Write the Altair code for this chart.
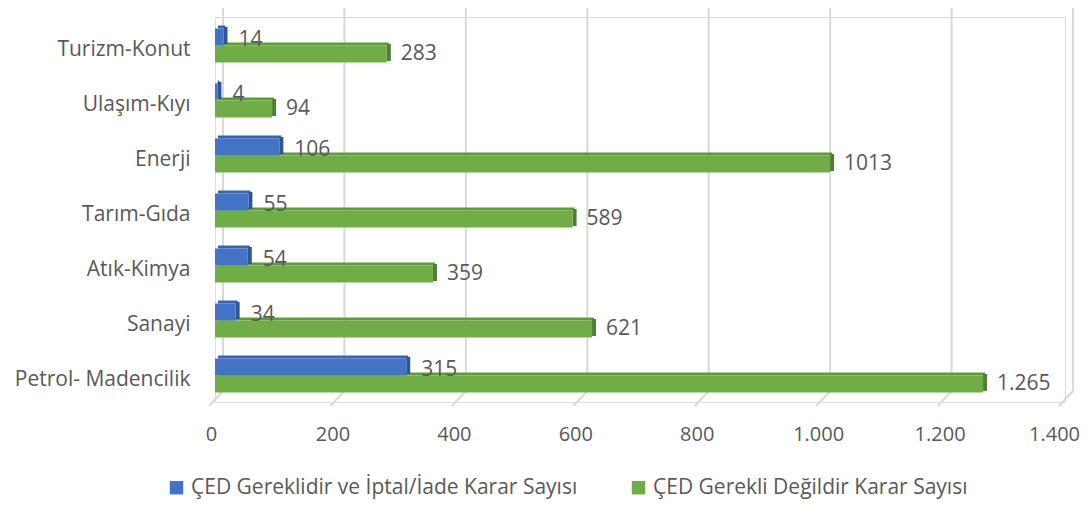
import altair as alt
import pandas as pd

categories = ["Turizm-Konut", "Ulaşım-Kıyı", "Enerji", "Tarım-Gıda", "Atık-Kimya", "Sanayi", "Petrol- Madencilik"]
series_names = ["ÇED Gereklidir ve İptal/İade Karar Sayısı", "ÇED Gerekli Değildir Karar Sayısı"]
blue_values = [14, 4, 106, 55, 54, 34, 315]
green_values = [283, 94, 1013, 589, 359, 621, 1265]
blue_labels = ["14", "4", "106", "55", "54", "34", "315"]
green_labels = ["283", "94", "1013", "589", "359", "621", "1.265"]
x_ticks = [0, 200, 400, 600, 800, 1000, 1200, 1400]

FONT = "Open Sans"
FS = 21
TXT = "#595959"
BLUE, BLUE_TOP, BLUE_SIDE = "#4472C4", "#3A64B0", "#2F5597"
GREEN, GREEN_TOP, GREEN_SIDE = "#70AD47", "#5F9A3B", "#507E32"

rows = []
for c, v, l in zip(categories, blue_values, blue_labels):
    rows.append({"cat": c, "series": series_names[0], "value": v, "label": l})
for c, v, l in zip(categories, green_values, green_labels):
    rows.append({"cat": c, "series": series_names[1], "value": v, "label": l})
df = pd.DataFrame(rows)
ticks_df = pd.DataFrame({"t": x_ticks})

xscale = alt.Scale(domain=[0, 1400], nice=False, zero=True)
yscale = alt.Scale(domain=categories, paddingInner=0, paddingOuter=0)

base = alt.Chart(df)
Y = alt.Y("cat:N", scale=yscale, sort=categories,
          axis=alt.Axis(title=None, domain=False, ticks=False, labelPadding=25,
                        labelFont=FONT, labelFontSize=FS, labelColor=TXT,
                        labelOffset=5, labelLimit=300))
X = alt.X("value:Q", scale=xscale,
          axis=alt.Axis(title=None, domain=False, ticks=False, grid=False,
                        values=x_ticks, labelPadding=22,
                        labelOffset={"condition": {"test": "datum.value === 1400", "value": -11}, "value": -4},
                        labelFlush=False,
                        labelFont=FONT, labelFontSize=20, labelColor=TXT,
                        labelExpr="replace(format(datum.value, ','), ',', '.')"))

grid_v = alt.Chart(ticks_df).mark_rule(color="#D9D9D9", strokeWidth=2, xOffset=8).encode(
    x=alt.X("t:Q", scale=xscale), y=alt.value(-10), y2=alt.value(374))
grid_s = alt.Chart(ticks_df).mark_rule(color="#D9D9D9", strokeWidth=2, xOffset=8, x2Offset=-6).encode(
    x=alt.X("t:Q", scale=xscale), x2="t:Q", y=alt.value(374), y2=alt.value(389))

H = 17
def series_layers(sname, main, top, side, yoff):
    b = base.transform_filter(alt.datum.series == sname)
    topface = b.transform_calculate(zero="0").mark_bar(
        height=3, yOffset=yoff - H / 2 - 1.5, xOffset=2, x2Offset=3, color=top).encode(
        x=alt.X("value:Q", scale=xscale), x2=alt.X2("zero:Q"), y=Y)
    sideface = b.mark_bar(height=H, yOffset=yoff - 1.5, x2Offset=4, color=side).encode(
        x=alt.X("value:Q", scale=xscale), x2=alt.X2("value:Q"), y=Y)
    front = b.mark_bar(height=H, yOffset=yoff).encode(
        x=X, y=Y,
        color=alt.Color("series:N", scale=alt.Scale(domain=series_names, range=[BLUE, GREEN]),
                        legend=alt.Legend(title=None, orient="none", legendX=-49, legendY=460,
                                          direction="horizontal", symbolType="square",
                                          symbolSize=180, symbolStrokeWidth=0, labelOffset=4,
                                          labelFont=FONT, labelFontSize=FS, labelColor=TXT,
                                          columnPadding=50, labelLimit=600)))
    return [topface, sideface, front]

blue_layers = series_layers(series_names[0], BLUE, BLUE_TOP, BLUE_SIDE, -H / 2 + 1)
green_layers = series_layers(series_names[1], GREEN, GREEN_TOP, GREEN_SIDE, H / 2 + 1)

lbl_blue = base.transform_filter(alt.datum.series == series_names[0]).mark_text(
    align="left", baseline="middle", dx=15, yOffset=-H / 2 + 4, font=FONT, fontSize=FS, color=TXT
).encode(x=alt.X("value:Q", scale=xscale), y=Y, text="label:N")
lbl_green = base.transform_filter(alt.datum.series == series_names[1]).mark_text(
    align="left", baseline="middle", dx=14, yOffset=H / 2 + 1, font=FONT, fontSize=FS, color=TXT
).encode(x=alt.X("value:Q", scale=xscale), y=Y, text="label:N")

chart = alt.layer(grid_v, grid_s, *green_layers, *blue_layers, lbl_blue, lbl_green).properties(
    width=850, height=385,
    autosize=alt.AutoSizeParams(type="none"),
    padding={"left": 207, "top": 9, "right": 15, "bottom": 98},
).configure_view(stroke=None).configure(background="white")

chart.save("out.html", embed_options={"renderer": "svg", "actions": False})
